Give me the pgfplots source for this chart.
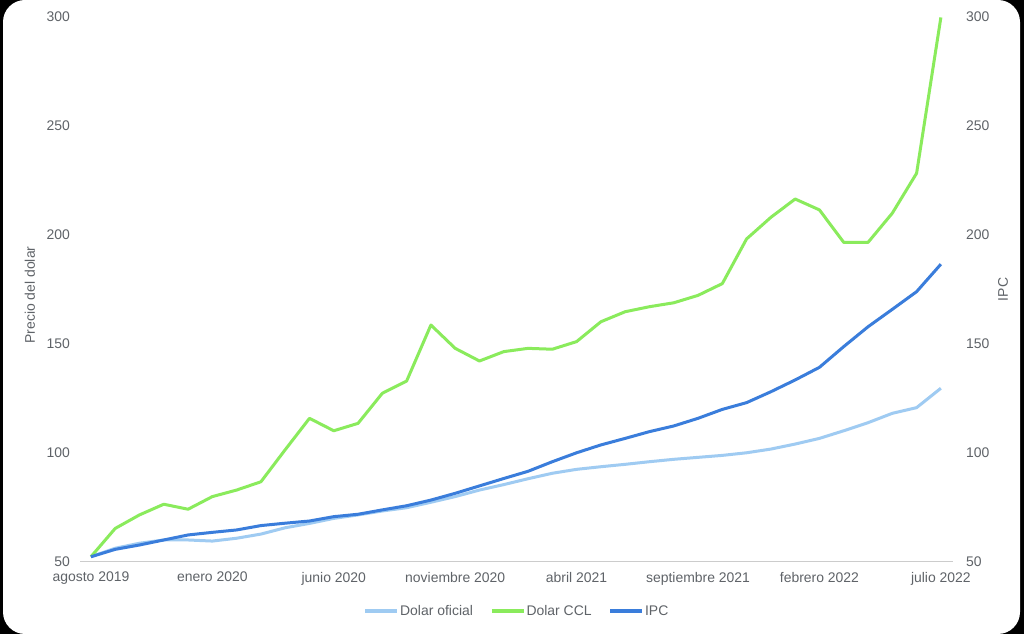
\documentclass[border=0pt]{standalone}
\usepackage{fontspec}
\setmainfont{Liberation Sans}
\usepackage{pgfplots}
\pgfplotsset{compat=1.18}
\definecolor{oficial}{HTML}{9FCBF2}
\definecolor{ccl}{HTML}{8AEB5C}
\definecolor{ipc}{HTML}{3A7DDB}
\definecolor{txt}{HTML}{5F6368}
\definecolor{axisline}{HTML}{CCCCCC}
\begin{document}
\begin{tikzpicture}[x=1bp,y=1bp]
\fill[black] (0,0) rectangle (1024,634);
\fill[white, rounded corners=22bp] (3,0) rectangle (1020,634);
\pgfplotsset{
  common/.style={
    at={(80bp,72bp)}, anchor=south west,
    scale only axis, width=873bp, height=545bp,
    xmin=-0.45, xmax=35.5, ymin=50, ymax=300,
    ytick={50,100,...,300},
    major tick length=0pt,
    tick label style={font=\fontsize{14}{16}\selectfont, text=txt, inner sep=0pt},
    /pgf/number format/assume math mode=true,
    clip=false,
  }
}
\begin{axis}[common,
    axis x line*=bottom, axis y line*=left,
    x axis line style={draw=axisline, line width=1bp, -},
    y axis line style={draw=none},
    xtick={0,5,...,35},
    xticklabels={agosto 2019, enero 2020, junio 2020, noviembre 2020, abril 2021, septiembre 2021, febrero 2022, julio 2022},
    xticklabel style={anchor=north, yshift=-10bp},
    yticklabel style={anchor=east, xshift=-10bp},
    ylabel={Precio del dolar},
    every axis y label/.style={at={(axis description cs:-0.0573,0.49)}, rotate=90, anchor=center,
      font=\fontsize{14}{16}\selectfont, text=txt},
    legend columns=3,
    legend style={draw=none, fill=none, at={(axis description cs:0.5,-0.09)}, anchor=center,
      font=\fontsize{14}{16}\selectfont, text=txt,
      /tikz/every even column/.append style={column sep=16bp},
      nodes={inner sep=1bp}},
    legend image code/.code={\draw[#1, line width=3.5bp] (0bp,0bp) -- (32bp,0bp);},
  ]
\addplot[oficial, line width=3bp, line join=round] coordinates {
(0,52.4) (1,56.3) (2,58.6) (3,60.1) (4,60.1) (5,59.6) (6,60.9) (7,62.8) (8,65.7) (9,67.7)
(10,70.0) (11,71.6) (12,73.4) (13,74.9) (14,77.4) (15,80.0) (16,83.0) (17,85.5) (18,88.2) (19,90.7)
(20,92.5) (21,93.7) (22,94.8) (23,96.0) (24,97.1) (25,98.0) (26,98.9) (27,100.1) (28,101.8) (29,104.1)
(30,106.7) (31,110.2) (32,113.9) (33,118.2) (34,120.8) (35,129.7)};
\addlegendentry{Dolar oficial}
\addplot[ccl, line width=3bp, line join=round] coordinates {
(0,52.4) (1,65.4) (2,71.6) (3,76.5) (4,74.2) (5,80.0) (6,83.0) (7,86.8) (8,101.5) (9,115.9)
(10,110.2) (11,113.6) (12,127.4) (13,133.0) (14,158.7) (15,148.0) (16,142.2) (17,146.5) (18,148.0) (19,147.6)
(20,151.1) (21,160.2) (22,164.8) (23,167.1) (24,168.9) (25,172.3) (26,177.7) (27,198.2) (28,208.1) (29,216.5)
(30,211.5) (31,196.6) (32,196.6) (33,210.0) (34,228.3) (35,299.8)};
\addlegendentry{Dolar CCL}
\addplot[ipc, line width=3bp, line join=round] coordinates {
(0,52.4) (1,55.8) (2,57.8) (3,60.1) (4,62.4) (5,63.6) (6,64.7) (7,66.7) (8,67.8) (9,68.8)
(10,70.8) (11,71.9) (12,73.9) (13,75.8) (14,78.4) (15,81.5) (16,84.9) (17,88.3) (18,91.6) (19,96.0)
(20,100.1) (21,103.7) (22,106.7) (23,109.8) (24,112.4) (25,115.9) (26,120.0) (27,123.1) (28,128.1) (29,133.5)
(30,139.3) (31,148.8) (32,157.9) (33,165.9) (34,174.0) (35,186.6)};
\addlegendentry{IPC}
\end{axis}
\begin{axis}[common,
    axis x line=none, axis y line*=right,
    y axis line style={draw=none},
    xtick=\empty,
    yticklabel style={anchor=west, xshift=13bp},
    ylabel={IPC},
    every axis y label/.style={at={(axis description cs:1.0573,0.5)}, rotate=90, anchor=center,
      font=\fontsize{14}{16}\selectfont, text=txt},
  ]
\end{axis}
\end{tikzpicture}
\end{document}
